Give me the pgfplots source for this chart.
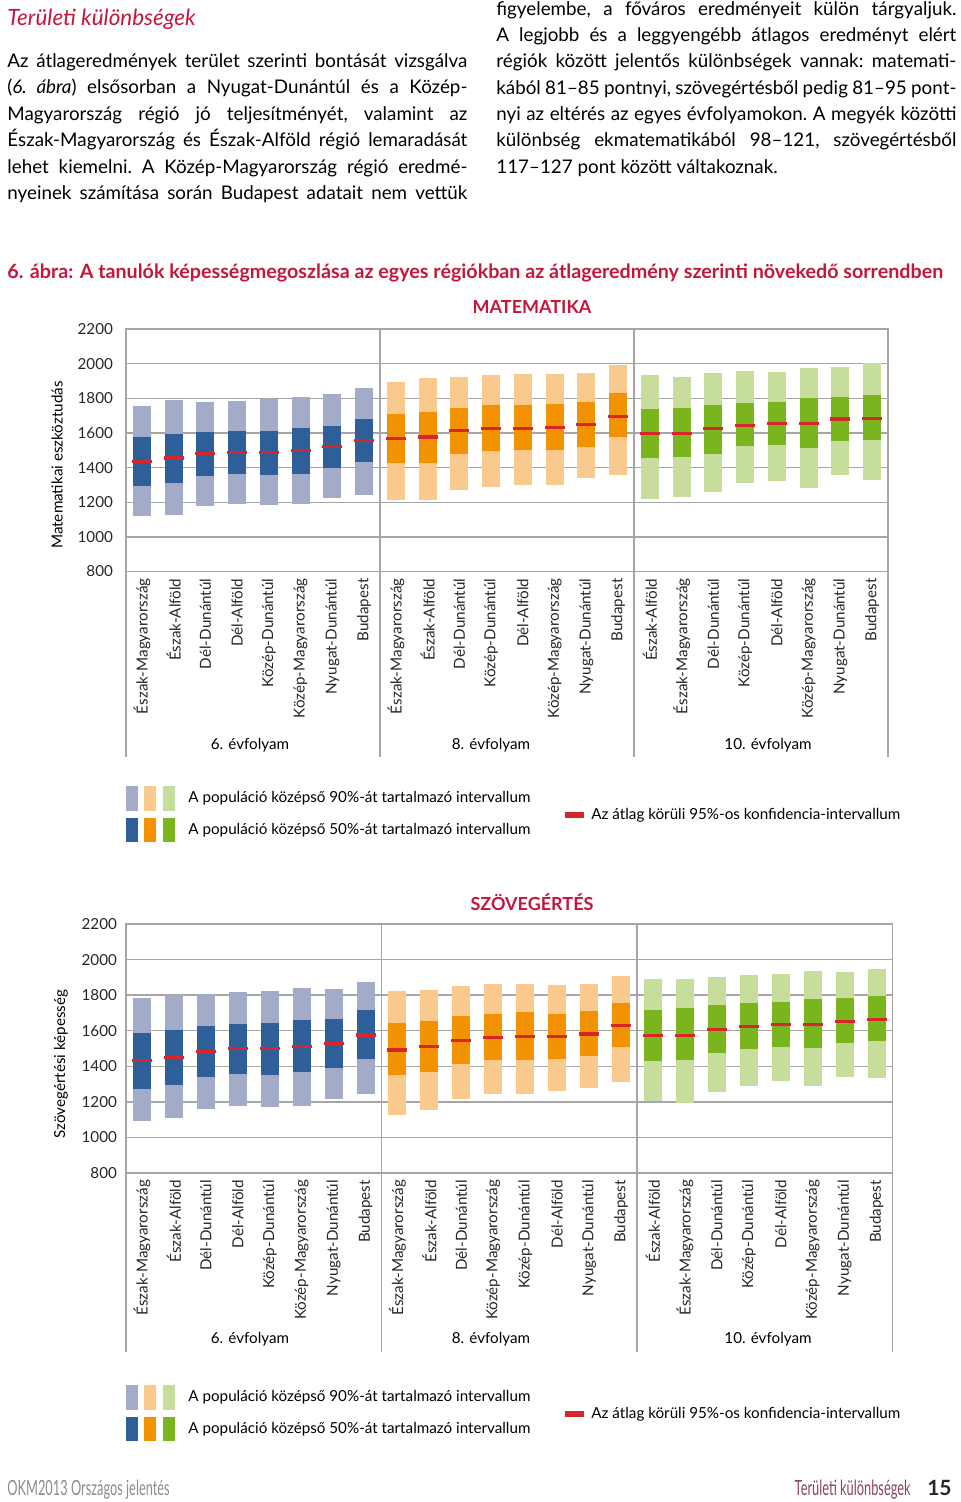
\documentclass[border=0pt]{standalone}
\usepackage{pgfplots}
\pgfplotsset{compat=1.18}
\usepackage{pgfplotstable}
\usepackage{fontspec}
\setmainfont{Lato}
\newfontfamily\footfont[FakeStretch=0.61]{Lato}
\definecolor{tred}{HTML}{C4163C}
\definecolor{dblue}{HTML}{2F5F98}
\definecolor{lblue}{HTML}{A2ACC9}
\definecolor{dorange}{HTML}{F39200}
\definecolor{lorange}{HTML}{FAC98E}
\definecolor{dgreen}{HTML}{7AB51D}
\definecolor{lgreen}{HTML}{C6DD9C}
\definecolor{mred}{HTML}{D7262B}
\definecolor{gridgray}{HTML}{A6A6A6}
\definecolor{footred}{HTML}{8A4556}

\pgfplotstableread{
x lo q1 m q3 hi
0 1118 1295 1437 1576 1757
1 1124 1310 1455 1593 1788
2 1181 1351 1480 1607 1778
3 1191 1362 1487 1613 1784
4 1185 1356 1487 1613 1796
5 1191 1364 1499 1628 1809
6 1225 1395 1520 1641 1823
7 1243 1432 1557 1682 1857
8 1214 1426 1568 1711 1892
9 1214 1426 1576 1720 1915
10 1272 1476 1613 1745 1923
11 1290 1494 1626 1760 1937
12 1301 1504 1627 1759 1938
13 1297 1502 1631 1765 1940
14 1338 1519 1649 1780 1948
15 1357 1575 1697 1830 1992
16 1218 1456 1595 1737 1936
17 1228 1461 1598 1743 1923
18 1261 1481 1624 1763 1948
19 1311 1523 1645 1774 1956
20 1325 1533 1653 1780 1952
21 1282 1514 1653 1799 1975
22 1355 1552 1680 1807 1981
23 1328 1560 1685 1819 2006
}\mathdata

\pgfplotstableread{
x lo q1 m q3 hi
0 1095 1273 1434 1590 1786
1 1108 1295 1449 1603 1799
2 1158 1340 1483 1625 1807
3 1177 1357 1498 1638 1816
4 1172 1353 1498 1644 1826
5 1175 1366 1511 1659 1841
6 1217 1393 1528 1665 1833
7 1243 1440 1576 1719 1876
8 1127 1350 1492 1646 1822
9 1157 1370 1511 1655 1829
10 1215 1413 1545 1683 1850
11 1243 1434 1563 1696 1862
12 1243 1438 1567 1704 1865
13 1263 1443 1569 1696 1859
14 1277 1458 1582 1709 1865
15 1314 1507 1629 1756 1908
16 1205 1430 1571 1719 1893
17 1196 1436 1575 1725 1893
18 1256 1475 1606 1747 1903
19 1292 1498 1623 1756 1916
20 1318 1511 1635 1764 1918
21 1290 1501 1636 1777 1936
22 1340 1530 1651 1784 1931
23 1335 1543 1665 1798 1946
}\readdata

\newcommand\bodyfont{\fontsize{9.4}{13}\selectfont}
\newcommand\smallfont{\fontsize{7.6}{9}\selectfont}
\newcommand\jline[3]{\node[anchor=base west, inner sep=0pt, font=\bodyfont] at (#1,#2) {\frenchspacing\makebox[230pt][s]{#3}};}

\pgfplotsset{
 regchart/.style={
  scale only axis, anchor=south west,
  xmin=-0.5, xmax=23.5, ymin=800, ymax=2200,
  ytick={800,1000,...,2200},
  xtick={0,...,23},
  major tick length=0pt,
  ymajorgrids, grid style={gridgray, line width=0.7pt},
  axis line style={gridgray, line width=0.7pt},
  tick label style={font=\smallfont, color=black!85},
  xticklabel style={rotate=90, anchor=east},
  /pgf/number format/assume math mode=true,
  /pgf/number format/1000 sep={},
  clip=false,
 },
 lbar/.style={only marks, mark=*, mark size=0pt, mark options={draw=none, fill=none}, forget plot,
  error bars/y dir=plus, error bars/y explicit, error bars/error mark=none,
  error bars/error bar style={line width=9pt, color=#1, line cap=butt}},
 meanmark/.style={only marks, mark=-, mark size=5pt, color=mred, mark options={line width=1.6pt}},
}

\begin{document}
\begin{tikzpicture}
\path[use as bounding box] (0,0) rectangle (480pt,-751pt);

\begin{scope}[x=0.5pt, y=-0.5pt]
% title and body text
\node[anchor=base west, inner sep=0pt, font=\fontsize{11.2}{13}\selectfont\itshape, text=tred] at (7,26) {Területi különbségek};
\jline{7}{68}{Az átlageredmények terület szerinti bontását vizsgálva}
\jline{7}{94}{(\textit{6. ábra}) elsősorban a Nyugat-Dunántúl és a Közép-}
\jline{7}{121}{Magyarország régió jó teljesítményét, valamint az}
\jline{7}{147}{Észak-Magyarország és Észak-Alföld régió lemaradását}
\jline{7}{174}{lehet kiemelni. A Közép-Magyarország régió eredmé-}
\jline{7}{200}{nyeinek számítása során Budapest adatait nem vettük}
\jline{496}{16}{figyelembe, a főváros eredményeit külön tárgyaljuk.}
\jline{496}{42}{A legjobb és a leggyengébb átlagos eredményt elért}
\jline{496}{68}{régiók között jelentős különbségek vannak: matemati-}
\jline{496}{95}{kából 81–85 pontnyi, szövegértésből pedig 81–95 pont-}
\jline{496}{121}{nyi az eltérés az egyes évfolyamokon. A megyék közötti}
\jline{496}{147}{különbség ekmatematikából 98–121, szövegértésből}
\node[anchor=base west, inner sep=0pt, font=\bodyfont] at (496,174) {117–127 pont között váltakoznak.};

% caption
\node[anchor=base west, inner sep=0pt, font=\fontsize{9.85}{11}\selectfont\bfseries, text=tred] at (7,279) {6. ábra: A tanulók képességmegoszlása az egyes régiókban az átlageredmény szerinti növekedő sorrendben};
\node[inner sep=0pt, font=\fontsize{9}{11}\selectfont\bfseries, text=tred] at (532,307) {MATEMATIKA};
\node[inner sep=0pt, font=\fontsize{9}{11}\selectfont\bfseries, text=tred] at (532,902) {SZÖVEGÉRTÉS};

% axis titles
\node[rotate=90, inner sep=0pt, font=\smallfont] at (57,465) {Matematikai eszköztudás};
\node[rotate=90, inner sep=0pt, font=\smallfont] at (61,1064) {Szövegértési képesség};

% group labels
\foreach \yy in {745,1339}{
 \node[inner sep=0pt, font=\smallfont] at (250,\yy) {6. évfolyam};
 \node[inner sep=0pt, font=\smallfont] at (491,\yy) {8. évfolyam};
 \node[inner sep=0pt, font=\smallfont] at (768,\yy) {10. évfolyam};
}

% legends
\foreach \yo in {0,599}{
 \fill[lblue] (126,786+\yo) rectangle (138,811+\yo);
 \fill[lorange] (144,786+\yo) rectangle (156,811+\yo);
 \fill[lgreen] (163,786+\yo) rectangle (175,811+\yo);
 \fill[dblue] (126,818+\yo) rectangle (138,842+\yo);
 \fill[dorange] (144,818+\yo) rectangle (156,842+\yo);
 \fill[dgreen] (163,818+\yo) rectangle (175,842+\yo);
 \node[anchor=west, inner sep=0pt, font=\smallfont] at (188,798+\yo) {A populáció középső 90\%-át tartalmazó intervallum};
 \node[anchor=west, inner sep=0pt, font=\smallfont] at (188,830+\yo) {A populáció középső 50\%-át tartalmazó intervallum};
 \fill[mred] (565,812+\yo) rectangle (584,818+\yo);
 \node[anchor=west, inner sep=0pt, font=\smallfont] at (591,815+\yo) {Az átlag körüli 95\%-os konfidencia-intervallum};
}

% footer
\node[anchor=base west, inner sep=0pt, font=\footfont\fontsize{10.5}{12}\selectfont, text=black!45] at (7,1495) {OKM2013 Országos jelentés};
\node[anchor=base east, inner sep=0pt, font=\footfont\fontsize{10.5}{12}\selectfont, text=footred] at (911,1495) {Területi különbségek};
\node[anchor=base east, inner sep=0pt, font=\fontsize{10.5}{12}\selectfont\bfseries, text=black!85] at (952,1495) {15};
\end{scope}

% ---------- MATEMATIKA ----------
\begin{axis}[regchart,
  at={(63pt,-285.75pt)}, width=381pt, height=121.25pt,
  yticklabel style={xshift=-3pt},
  xticklabels={Észak-Magyarország,Észak-Alföld,Dél-Dunántúl,Dél-Alföld,Közép-Dunántúl,Közép-Magyarország,Nyugat-Dunántúl,Budapest,
   Észak-Magyarország,Észak-Alföld,Dél-Dunántúl,Közép-Dunántúl,Dél-Alföld,Közép-Magyarország,Nyugat-Dunántúl,Budapest,
   Észak-Alföld,Észak-Magyarország,Dél-Dunántúl,Közép-Dunántúl,Dél-Alföld,Közép-Magyarország,Nyugat-Dunántúl,Budapest},
]
\draw[gridgray, line width=0.7pt] (axis cs:-0.5,800) -- ([yshift=-92.75pt]axis cs:-0.5,800);
\draw[gridgray, line width=0.7pt] (axis cs:23.5,800) -- ([yshift=-92.75pt]axis cs:23.5,800);
\draw[gridgray, line width=0.7pt] (axis cs:7.5,2200) -- ([yshift=-92.75pt]axis cs:7.5,800);
\draw[gridgray, line width=0.7pt] (axis cs:15.5,2200) -- ([yshift=-92.75pt]axis cs:15.5,800);
\addplot[restrict x to domain=0:7, lbar=lblue] table[x=x, y=lo, y error expr=\thisrow{hi}-\thisrow{lo}] {\mathdata};
\addplot[restrict x to domain=8:15, lbar=lorange] table[x=x, y=lo, y error expr=\thisrow{hi}-\thisrow{lo}] {\mathdata};
\addplot[restrict x to domain=16:23, lbar=lgreen] table[x=x, y=lo, y error expr=\thisrow{hi}-\thisrow{lo}] {\mathdata};
\addplot[restrict x to domain=0:7, lbar=dblue] table[x=x, y=q1, y error expr=\thisrow{q3}-\thisrow{q1}] {\mathdata};
\addplot[restrict x to domain=8:15, lbar=dorange] table[x=x, y=q1, y error expr=\thisrow{q3}-\thisrow{q1}] {\mathdata};
\addplot[restrict x to domain=16:23, lbar=dgreen] table[x=x, y=q1, y error expr=\thisrow{q3}-\thisrow{q1}] {\mathdata};
\addplot[meanmark] table[x=x, y=m] {\mathdata};
\end{axis}

% ---------- SZÖVEGÉRTÉS ----------
\begin{axis}[regchart,
  at={(63pt,-586.5pt)}, width=383.25pt, height=124.5pt,
  yticklabel style={xshift=-1pt},
  xticklabels={Észak-Magyarország,Észak-Alföld,Dél-Dunántúl,Dél-Alföld,Közép-Dunántúl,Közép-Magyarország,Nyugat-Dunántúl,Budapest,
   Észak-Magyarország,Észak-Alföld,Dél-Dunántúl,Közép-Magyarország,Közép-Dunántúl,Dél-Alföld,Nyugat-Dunántúl,Budapest,
   Észak-Alföld,Észak-Magyarország,Dél-Dunántúl,Közép-Dunántúl,Dél-Alföld,Közép-Magyarország,Nyugat-Dunántúl,Budapest},
]
\draw[gridgray, line width=0.7pt] (axis cs:-0.5,800) -- ([yshift=-89.5pt]axis cs:-0.5,800);
\draw[gridgray, line width=0.7pt] (axis cs:23.5,800) -- ([yshift=-89.5pt]axis cs:23.5,800);
\draw[gridgray, line width=0.7pt] (axis cs:7.5,2200) -- ([yshift=-89.5pt]axis cs:7.5,800);
\draw[gridgray, line width=0.7pt] (axis cs:15.5,2200) -- ([yshift=-89.5pt]axis cs:15.5,800);
\addplot[restrict x to domain=0:7, lbar=lblue] table[x=x, y=lo, y error expr=\thisrow{hi}-\thisrow{lo}] {\readdata};
\addplot[restrict x to domain=8:15, lbar=lorange] table[x=x, y=lo, y error expr=\thisrow{hi}-\thisrow{lo}] {\readdata};
\addplot[restrict x to domain=16:23, lbar=lgreen] table[x=x, y=lo, y error expr=\thisrow{hi}-\thisrow{lo}] {\readdata};
\addplot[restrict x to domain=0:7, lbar=dblue] table[x=x, y=q1, y error expr=\thisrow{q3}-\thisrow{q1}] {\readdata};
\addplot[restrict x to domain=8:15, lbar=dorange] table[x=x, y=q1, y error expr=\thisrow{q3}-\thisrow{q1}] {\readdata};
\addplot[restrict x to domain=16:23, lbar=dgreen] table[x=x, y=q1, y error expr=\thisrow{q3}-\thisrow{q1}] {\readdata};
\addplot[meanmark] table[x=x, y=m] {\readdata};
\end{axis}
\end{tikzpicture}
\end{document}
